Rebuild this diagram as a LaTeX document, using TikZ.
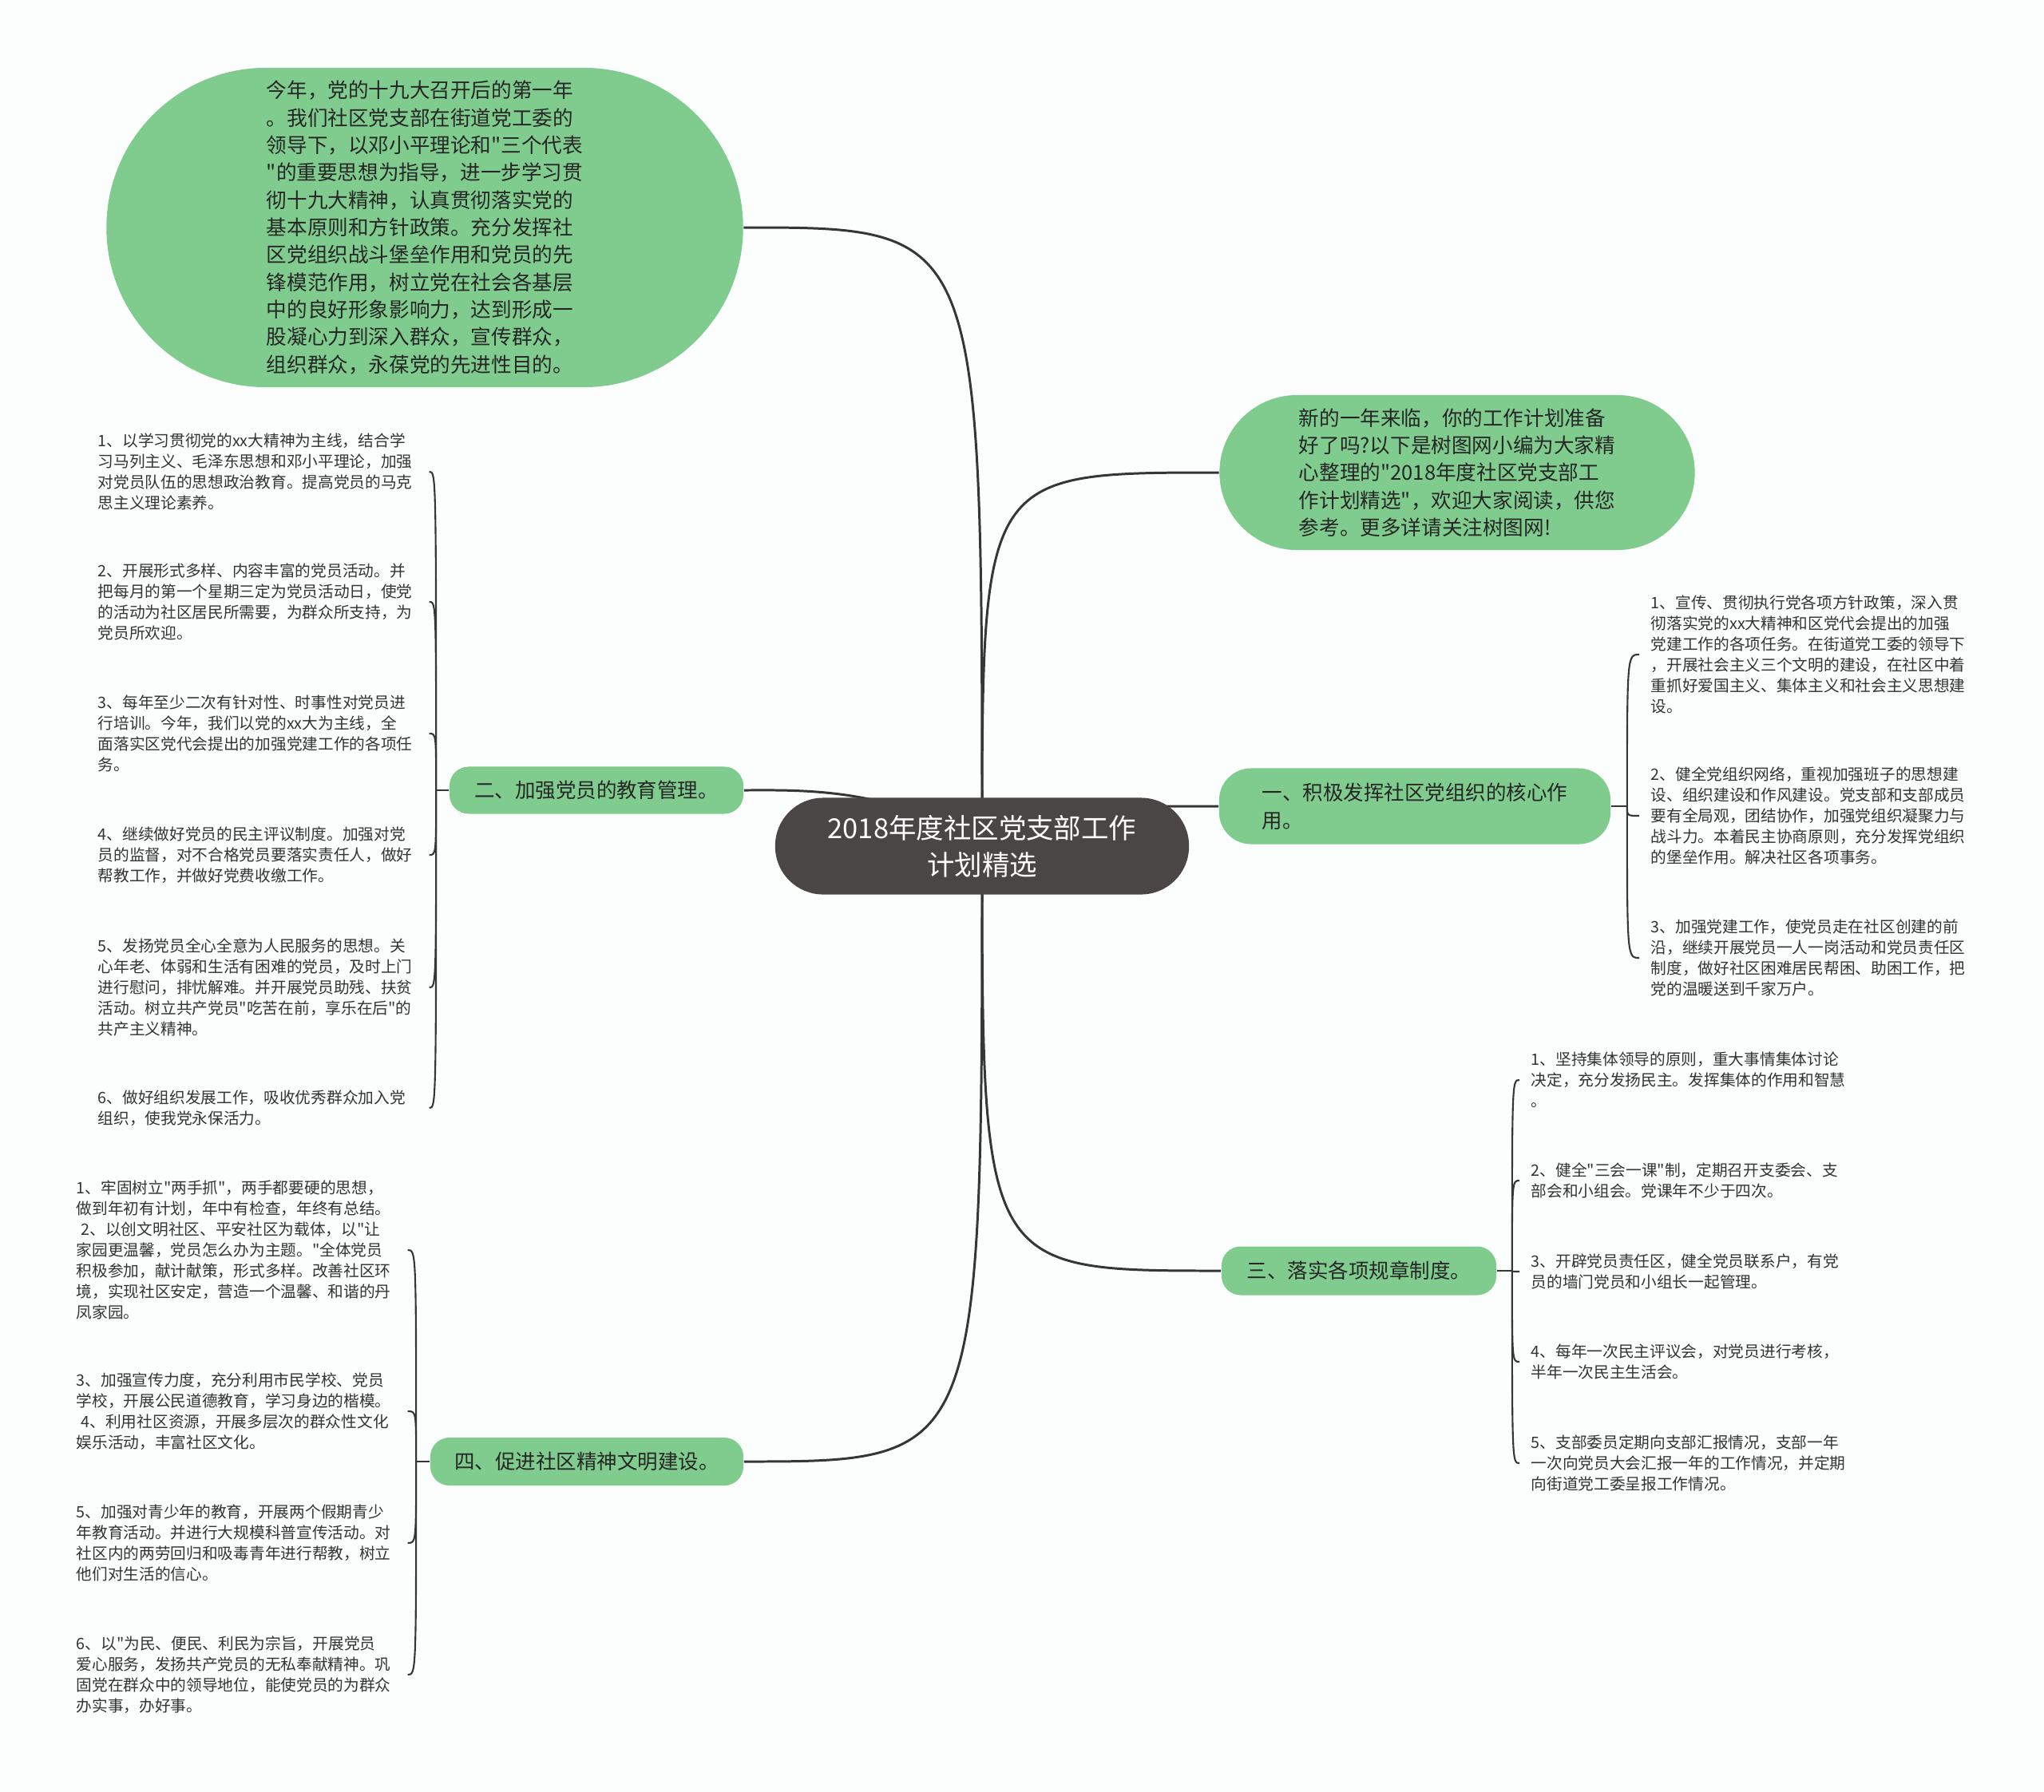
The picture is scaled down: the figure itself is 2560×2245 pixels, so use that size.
\documentclass[tikz,border=0pt]{standalone}
\usepackage{fontspec}
\newfontfamily\cjk{Noto Sans CJK SC}
\usepackage{xcolor}
\usetikzlibrary{backgrounds}
\definecolor{leaf}{HTML}{7FCC8E}
\definecolor{trunk}{HTML}{4B4646}
\definecolor{wire}{HTML}{363636}
\definecolor{ink}{HTML}{333333}
\definecolor{paper}{HTML}{FCFEFD}

\begin{document}
\begin{tikzpicture}[x=0.01cm,y=-0.01cm,
  root/.style={fill=trunk,text=white,rounded corners=0.6cm,minimum width=5.18cm,minimum height=1.21cm,
    align=center,inner sep=0,font={\cjk\fontsize{9.8pt}{13.1pt}\selectfont}},
  bubble/.style={fill=leaf,text=black!85,align=left,inner sep=0,font={\cjk\fontsize{7.28pt}{9.76pt}\selectfont}},
  branch/.style={fill=leaf,text=black!85,align=left,inner sep=0,rounded corners=0.24cm,
    minimum height=0.6cm,font={\cjk\fontsize{7.25pt}{9.96pt}\selectfont}},
  item/.style={text=ink,align=left,text width=4cm,inner xsep=0.14cm,inner ysep=0,anchor=west,
    font={\cjk\fontsize{5.6pt}{7.4pt}\selectfont}},
  limb/.style={draw=wire,line width=0.85pt},
  twig/.style={draw=wire,line width=0.6pt}]
  \useasboundingbox (0,0) rectangle (2560,2245);

  \node[root] (root) at (1230,1060) {2018年度社区党支部工作\\计划精选};

  \node[bubble,rounded corners=2cm,minimum width=7.97cm,minimum height=4cm] (intro) at (532,285)
    {今年，党的十九大召开后的第一年\\。我们社区党支部在街道党工委的\\领导下，以邓小平理论和"三个代表\\"的重要思想为指导，进一步学习贯\\彻十九大精神，认真贯彻落实党的\\基本原则和方针政策。充分发挥社\\区党组织战斗堡垒作用和党员的先\\锋模范作用，树立党在社会各基层\\中的良好形象影响力，达到形成一\\股凝心力到深入群众，宣传群众，\\组织群众，永葆党的先进性目的。};
  \node[bubble,rounded corners=0.97cm,minimum width=5.95cm,minimum height=1.94cm] (lead) at (1825,592)
    {新的一年来临，你的工作计划准备\\好了吗?以下是树图网小编为大家精\\心整理的"2018年度社区党支部工\\作计划精选"，欢迎大家阅读，供您\\参考。更多详请关注树图网!};

  \node[branch,rounded corners=0.4cm,minimum width=4.9cm,minimum height=0.95cm] (b1) at (1772,1010)
    {一、积极发挥社区党组织的核心作\\用。};
  \node[branch,minimum width=3.68cm,minimum height=0.59cm] (b2) at (747,990) {二、加强党员的教育管理。};
  \node[branch,minimum width=3.44cm,minimum height=0.61cm] (b3) at (1702,1592) {三、落实各项规章制度。};
  \node[branch,minimum width=3.92cm] (b4) at (735,1831) {四、促进社区精神文明建设。};

  % 一
  \node[item] (i11) at (2053,820) {1、宣传、贯彻执行党各项方针政策，深入贯\\彻落实党的xx大精神和区党代会提出的加强\\党建工作的各项任务。在街道党工委的领导下\\，开展社会主义三个文明的建设，在社区中着\\重抓好爱国主义、集体主义和社会主义思想建\\设。};
  \node[item] (i12) at (2053,1022) {2、健全党组织网络，重视加强班子的思想建\\设、组织建设和作风建设。党支部和支部成员\\要有全局观，团结协作，加强党组织凝聚力与\\战斗力。本着民主协商原则，充分发挥党组织\\的堡垒作用。解决社区各项事务。};
  \node[item] (i13) at (2053,1200) {3、加强党建工作，使党员走在社区创建的前\\沿，继续开展党员一人一岗活动和党员责任区\\制度，做好社区困难居民帮困、助困工作，把\\党的温暖送到千家万户。};

  % 二
  \node[item] (i21) at (108,591) {1、以学习贯彻党的xx大精神为主线，结合学\\习马列主义、毛泽东思想和邓小平理论，加强\\对党员队伍的思想政治教育。提高党员的马克\\思主义理论素养。};
  \node[item] (i22) at (108,754) {2、开展形式多样、内容丰富的党员活动。并\\把每月的第一个星期三定为党员活动日，使党\\的活动为社区居民所需要，为群众所支持，为\\党员所欢迎。};
  \node[item] (i23) at (108,919) {3、每年至少二次有针对性、时事性对党员进\\行培训。今年，我们以党的xx大为主线，全\\面落实区党代会提出的加强党建工作的各项任\\务。};
  \node[item] (i24) at (108,1071) {4、继续做好党员的民主评议制度。加强对党\\员的监督，对不合格党员要落实责任人，做好\\帮教工作，并做好党费收缴工作。};
  \node[item] (i25) at (108,1237) {5、发扬党员全心全意为人民服务的思想。关\\心年老、体弱和生活有困难的党员，及时上门\\进行慰问，排忧解难。并开展党员助残、扶贫\\活动。树立共产党员"吃苦在前，享乐在后"的\\共产主义精神。};
  \node[item] (i26) at (108,1388) {6、做好组织发展工作，吸收优秀群众加入党\\组织，使我党永保活力。};

  % 三
  \node[item] (i31) at (1903,1353) {1、坚持集体领导的原则，重大事情集体讨论\\决定，充分发扬民主。发挥集体的作用和智慧\\。};
  \node[item] (i32) at (1903,1479) {2、健全"三会一课"制，定期召开支委会、支\\部会和小组会。党课年不少于四次。};
  \node[item] (i33) at (1903,1593) {3、开辟党员责任区，健全党员联系户，有党\\员的墙门党员和小组长一起管理。};
  \node[item] (i34) at (1903,1706) {4、每年一次民主评议会，对党员进行考核，\\半年一次民主生活会。};
  \node[item] (i35) at (1903,1833) {5、支部委员定期向支部汇报情况，支部一年\\一次向党员大会汇报一年的工作情况，并定期\\向街道党工委呈报工作情况。};

  % 四
  \node[item] (i41) at (81,1566) {1、牢固树立"两手抓"，两手都要硬的思想，\\做到年初有计划，年中有检查，年终有总结。\\\hspace*{0.3em}2、以创文明社区、平安社区为载体，以"让\\家园更温馨，党员怎么办为主题。"全体党员\\积极参加，献计献策，形式多样。改善社区环\\境，实现社区安定，营造一个温馨、和谐的丹\\凤家园。};
  \node[item] (i42) at (81,1768) {3、加强宣传力度，充分利用市民学校、党员\\学校，开展公民道德教育，学习身边的楷模。\\\hspace*{0.3em}4、利用社区资源，开展多层次的群众性文化\\娱乐活动，丰富社区文化。};
  \node[item] (i43) at (81,1933) {5、加强对青少年的教育，开展两个假期青少\\年教育活动。并进行大规模科普宣传活动。对\\社区内的两劳回归和吸毒青年进行帮教，树立\\他们对生活的信心。};
  \node[item] (i44) at (81,2098) {6、以"为民、便民、利民为宗旨，开展党员\\爱心服务，发扬共产党员的无私奉献精神。巩\\固党在群众中的领导地位，能使党员的为群众\\办实事，办好事。};

  \coordinate (j1) at ([xshift=0.2cm]b1.east);
  \coordinate (j2) at ([xshift=-0.16cm]b2.west);
  \coordinate (j3) at ([xshift=0.19cm]b3.east);
  \coordinate (j4) at ([xshift=-0.17cm]b4.west);

  \begin{scope}[on background layer]
    \fill[paper] (0,0) rectangle (2560,2245);
    \draw[limb] (root.center) .. controls (root.center |- intro.east) .. (intro.east);
    \draw[limb] (root.center) .. controls (root.center |- lead.west) .. (lead.west);
    \draw[limb] (root.center) .. controls (1350,1010) .. (b1.west);
    \draw[limb] (root.center) .. controls (1120,985) and (1000,990) .. (b2.east);
    \draw[limb] (root.center) .. controls (root.center |- b3.west) .. (b3.west);
    \draw[limb] (root.center) .. controls (root.center |- b4.east) .. (b4.east);
  \end{scope}

  \draw[twig] (b1.east) -- (j1);
  \draw[twig] (b2.west) -- (j2);
  \draw[twig] (b3.east) -- (j3);
  \draw[twig] (b4.west) -- (j4);
  \foreach \k in {1,2,3}
    \draw[twig] (j1) .. controls (j1 |- i1\k.west) .. (i1\k.west);
  \foreach \k in {1,...,6}
    \draw[twig] (j2) .. controls (j2 |- i2\k.east) .. (i2\k.east);
  \foreach \k in {1,...,5}
    \draw[twig] (j3) .. controls (j3 |- i3\k.west) .. (i3\k.west);
  \foreach \k in {1,...,4}
    \draw[twig] (j4) .. controls (j4 |- i4\k.east) .. (i4\k.east);
\end{tikzpicture}
\end{document}
